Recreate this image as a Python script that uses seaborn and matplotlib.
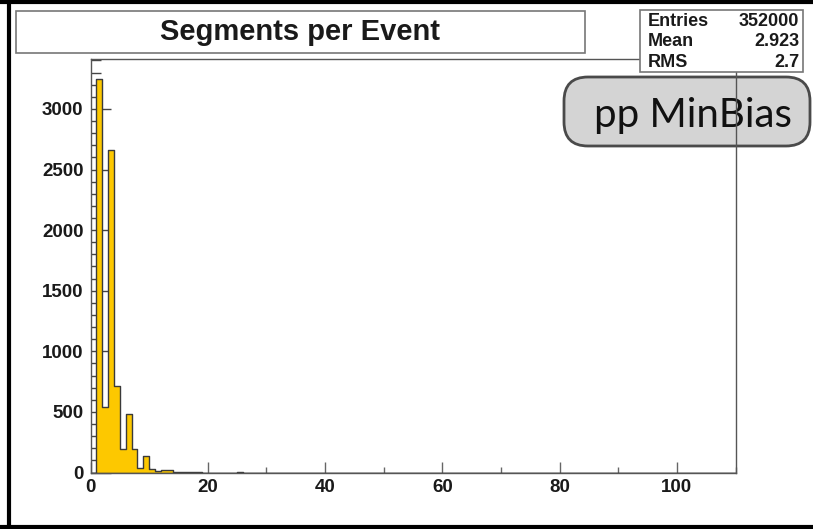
import numpy as np
import pandas as pd
import matplotlib.pyplot as plt
import seaborn as sns
from matplotlib.patches import FancyBboxPatch, Rectangle
from matplotlib.ticker import MultipleLocator

# Histogram contents (bin left edge -> entries)
segments = [1, 2, 3, 4, 5, 6, 7, 8, 9, 10, 11, 12, 13, 14, 15, 16, 17, 18, 25]
counts = [3250, 540, 2660, 710, 195, 480, 190, 40, 138, 30, 12, 22, 20, 4, 5, 3, 5, 4, 5]
bin_edges = list(range(0, 111))

stat_names = ['Entries', 'Mean', 'RMS']
stat_values = ['352000', '2.923', '2.7']

sns.set_style('white')
plt.rcParams['font.family'] = ['Liberation Sans', 'DejaVu Sans']

W, H = 813, 529
fig = plt.figure(figsize=(W / 100, H / 100), dpi=100)
fig.patch.set_facecolor('white')


def pixel_axes(z):
    a = fig.add_axes([0, 0, 1, 1], zorder=z)
    a.set_xlim(0, W)
    a.set_ylim(H, 0)
    a.axis('off')
    a.patch.set_alpha(0)
    return a


back = pixel_axes(0)
ax = fig.add_axes([90.5 / W, (H - 472.5) / H, 645 / W, 413.5 / H], zorder=1)
ax.patch.set_alpha(0)
front = pixel_axes(2)

# histogram
df = pd.DataFrame({'segments': [s + 0.5 for s in segments], 'counts': counts})
sns.histplot(data=df, x='segments', weights='counts', bins=bin_edges, element='step', fill=True,
             color='#fdc800', alpha=1, edgecolor='#3a3a3a', linewidth=1, ax=ax)
ax.set_xlim(0, 110)
ax.set_ylim(0, 3412)
ax.set_xlabel('')
ax.set_ylabel('')

for side in ['left', 'right', 'top', 'bottom']:
    ax.spines[side].set_color('#555555')
    ax.spines[side].set_linewidth(1)

ax.yaxis.set_major_locator(MultipleLocator(500))
ax.yaxis.set_minor_locator(MultipleLocator(100))
ax.xaxis.set_major_locator(MultipleLocator(20))
ax.xaxis.set_minor_locator(MultipleLocator(10))
ax.tick_params(axis='y', which='major', direction='in', length=14.4, width=1, color='#444444', pad=5)
ax.tick_params(axis='y', which='minor', direction='in', length=7.2, width=1, color='#444444')
ax.tick_params(axis='x', which='major', direction='in', length=8, width=1, color='#666666', pad=5)
ax.tick_params(axis='x', which='minor', direction='in', length=4, width=1, color='#666666')
ax.tick_params(left=True, bottom=True, right=False, top=False, which='both')
for lab in ax.get_yticklabels() + ax.get_xticklabels():
    lab.set_fontweight('bold')
    lab.set_fontsize(13.5)
    lab.set_color('#1a1a1a')

# pp MinBias label (under the frame)
back.add_patch(FancyBboxPatch((564 + 24, 77 + 24), 246 - 48, 69 - 48,
                              boxstyle='round,pad=24', facecolor='#d4d4d4',
                              edgecolor='#4a4a4a', linewidth=2))
back.text(693, 127.5, 'pp MinBias', ha='center', va='baseline', fontsize=29,
          family=['Lato', 'DejaVu Sans'], color='#111111')

# title box
front.add_patch(Rectangle((16, 10.5), 569, 42.5, facecolor='white', edgecolor='#777777', linewidth=1.2))
front.text(300, 31.5, 'Segments per Event', ha='center', va='center', fontsize=21, fontweight='bold',
           color='#1a1a1a')

# stats box
front.add_patch(Rectangle((640, 10), 163, 62, facecolor='white', edgecolor='#777777', linewidth=1.2))
for i, (name, val) in enumerate(zip(stat_names, stat_values)):
    y = 21.7 + i * 20.3
    front.text(648, y, name, ha='left', va='center', fontsize=13, fontweight='bold', color='#1a1a1a')
    front.text(799, y, val, ha='right', va='center', fontsize=13, fontweight='bold', color='#1a1a1a')

# outer black border
front.plot([0, W], [1.5, 1.5], color='black', linewidth=3)
front.plot([0, W], [526.5, 526.5], color='black', linewidth=3)
front.plot([8.5, 8.5], [0, H], color='black', linewidth=3)

fig.savefig('out.png', dpi=100)
